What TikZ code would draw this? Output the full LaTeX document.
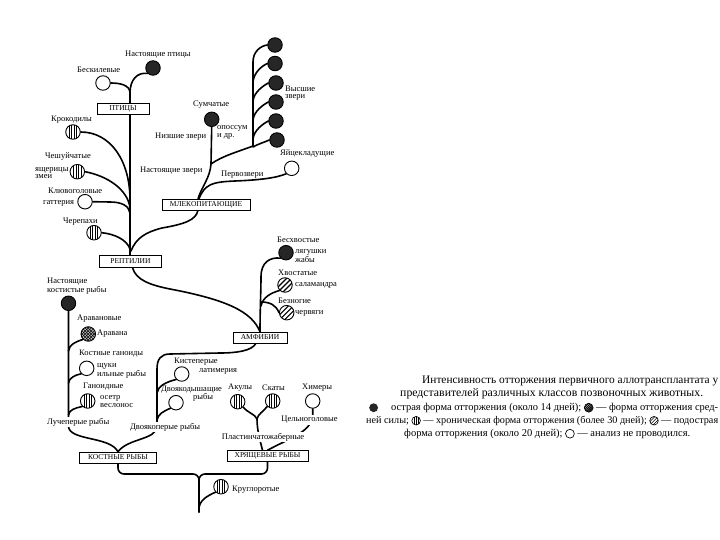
\documentclass[tikz,border=0pt]{standalone}
\usepackage{fontspec}
\setmainfont{Liberation Serif}
\usepackage{graphicx}
\pgfdeclarelayer{bg}
\pgfsetlayers{bg,main}
\newcommand{\lgA}{\tikz[baseline=-2.8pt]\fill[black!85] (0pt,0pt) circle (4pt);}
\newcommand{\lgB}{\tikz[baseline=-2.8pt]{\begin{scope}\clip (0pt,0pt) circle (4pt);\fill[black!30] (0pt,0pt) circle (4pt);\foreach \q in {-4,-2,0,2,4}{\draw[line width=0.5pt] (\q pt-5pt,-5pt) -- (\q pt+5pt,5pt);\draw[line width=0.5pt] (\q pt-5pt,5pt) -- (\q pt+5pt,-5pt);}\end{scope}\draw[line width=0.6pt] (0pt,0pt) circle (4pt);}}
\newcommand{\lgC}{\tikz[baseline=-2.8pt]{\begin{scope}\clip (0pt,0pt) circle (4pt);\foreach \q in {-2,0,2}{\draw[line width=0.5pt] (\q pt,-5pt) -- (\q pt,5pt);}\end{scope}\draw[line width=0.6pt] (0pt,0pt) circle (4pt);}}
\newcommand{\lgD}{\tikz[baseline=-2.8pt]{\begin{scope}\clip (0pt,0pt) circle (4pt);\foreach \q in {-3,0,3}{\draw[line width=0.6pt] (\q pt-5pt,-5pt) -- (\q pt+5pt,5pt);}\end{scope}\draw[line width=0.6pt] (0pt,0pt) circle (4pt);}}
\newcommand{\lgE}{\tikz[baseline=-2.8pt]\draw[line width=0.6pt] (0pt,0pt) circle (4pt);}
\begin{document}
\begin{tikzpicture}[x=1pt,y=-1pt,
  br/.style={line width=1.6pt, line cap=round},
  lab/.style={font=\fontsize{8.5}{7.5}\selectfont, inner sep=0pt, anchor=west, align=left},
  wlab/.style={lab, fill=white, inner sep=1pt},
  leg/.style={font=\fontsize{9.5}{10}\selectfont, inner sep=0pt, anchor=west},
  cls/.style={draw, line width=0.5pt, fill=white, font=\fontsize{7.5}{8}\selectfont, inner sep=0pt, minimum height=11pt},
  leaf/.style={circle, draw, line width=0.9pt, minimum size=14.5pt, inner sep=0pt, fill=white},
  blk/.style={leaf, fill=black!85},
  vst/.style={leaf, path picture={\foreach \q in {-3.6,-1.2,1.2,3.6} \draw[line width=0.8pt] ([xshift=\q pt]path picture bounding box.north) -- ([xshift=\q pt]path picture bounding box.south);}},
  dst/.style={leaf, path picture={\foreach \q in {-5,0,5} \draw[line width=1.1pt] ([shift={(\q pt-9pt,-9pt)}]path picture bounding box.center) -- ([shift={(\q pt+9pt,9pt)}]path picture bounding box.center);}},
  xst/.style={leaf, fill=black!25, path picture={\foreach \q in {-6,-3,0,3,6} {\draw[line width=0.6pt] ([shift={(\q pt-9pt,-9pt)}]path picture bounding box.center) -- ([shift={(\q pt+9pt,9pt)}]path picture bounding box.center); \draw[line width=0.6pt] ([shift={(\q pt-9pt,9pt)}]path picture bounding box.center) -- ([shift={(\q pt+9pt,-9pt)}]path picture bounding box.center);}}},
]
\useasboundingbox (0,0) rectangle (720,540);

% ---------- class boxes ----------
\node[cls, minimum width=52pt] (birds) at (123,108.5) {ПТИЦЫ};
\node[cls, minimum width=62pt, minimum height=12pt] (rept) at (130.5,261.5) {РЕПТИЛИИ};
\node[cls, minimum width=88pt] (mam) at (206,204.5) {МЛЕКОПИТАЮЩИЕ};
\node[cls, minimum width=54pt] (amph) at (260,337.5) {АМФИБИИ};
\node[cls, minimum width=77pt] (bony) at (118,457.5) {КОСТНЫЕ РЫБЫ};
\node[cls, minimum width=81pt] (chond) at (267.5,456) {ХРЯЩЕВЫЕ РЫБЫ};

% ---------- leaves ----------
\node[blk] (bird) at (153,68) {};
\node[leaf] (ratite) at (103,83) {};
\node[vst] (croc) at (73,132) {};
\node[vst] (squam) at (77.3,171.7) {};
\node[leaf] (tuat) at (85,201.7) {};
\node[vst] (turt) at (94,232.7) {};
\node[blk] (marsup) at (211.7,119.3) {};
\node[blk] (h1) at (275,45) {};
\node[blk] (h2) at (275,63.5) {};
\node[blk] (h3) at (276,83) {};
\node[blk] (h4) at (276,102) {};
\node[blk] (h5) at (276,121) {};
\node[blk] (h6) at (277,140) {};
\node[leaf] (mono) at (291.7,168.3) {};
\node[blk] (frog) at (286,252.7) {};
\node[dst] (sal) at (285,285) {};
\node[dst] (caec) at (286.7,312.7) {};
\node[blk] (teleo) at (68.5,303.3) {};
\node[xst] (arav) at (88.3,334) {};
\node[leaf] (pike) at (86.7,368.3) {};
\node[vst] (stur) at (87.7,401) {};
\node[leaf] (coel) at (181.7,374) {};
\node[leaf] (lung) at (176,402.7) {};
\node[vst] (shark) at (237.7,401.7) {};
\node[vst] (ray) at (272.7,401) {};
\node[leaf] (chim) at (312.7,401) {};
\node[vst] (lamp) at (221,486.7) {};

% ---------- junctions ----------
\coordinate (jb) at (130,93);
\coordinate (jm) at (131,251);
\coordinate (jh) at (211,164);
\coordinate (ja) at (261,302);
\coordinate (jf) at (257,419);
\coordinate (jt) at (199,474);

% ---------- branches ----------
\begin{pgfonlayer}{bg}
\fill[white] (0,0) rectangle (720,540);
% birds & reptiles
\draw[br] (jb) -- (rept.north -| jb);
\draw[br] (jb) .. controls (130,80) and (137,72) .. (bird.south west);
\draw[br] (ratite.east) .. controls (120,83) and (130,85) .. (jb);
\draw[br] (croc.east) .. controls (110,132) and (130,160) .. (130,200);
\draw[br] (squam.east) .. controls (108,176) and (128,190) .. (130,208);
\draw[br] (tuat.east) -- (110,202) .. controls (122,202) and (129,206) .. (130,213);
\draw[br] (turt.east) .. controls (115,234) and (127,240) .. (130,249);
% mammals
\draw[br] (jm) .. controls (136,238) and (146,232) .. (162,228) .. controls (185,224) and (196,220) .. ([xshift=-8pt]mam.south);
\draw[br] ([xshift=-8pt]mam.north) .. controls (202,186) and (210,178) .. (jh) -- (marsup.south);
\draw[br] ([xshift=-7pt]mam.north) .. controls (205,184) and (212,182) .. (235,181) .. controls (260,180) and (276,178) .. (mono.south west);
\draw[br] (jh) .. controls (222,156) and (240,151) .. (253,146) -- (253,62) .. controls (253,52) and (260,46) .. (h1.west);
\draw[br] (h2.west) .. controls (262,66) and (254,72) .. (253,82);
\draw[br] (h3.west) .. controls (263,86) and (254,92) .. (253,101);
\draw[br] (h4.west) .. controls (263,105) and (254,111) .. (253,120);
\draw[br] (h5.west) .. controls (263,124) and (254,130) .. (253,139);
\draw[br] (h6.west) .. controls (265,142) and (258,144) .. (253,147);
% amphibians
\draw[br] ([xshift=2pt]rept.south) .. controls (136,280) and (150,285) .. (170,289) .. controls (228,300) and (252,312) .. (amph.north);
\draw[br] (amph.north) .. controls (260,310) and (261,290) .. (261,277) .. controls (261,262) and (270,257) .. (frog.south west);
\draw[br] (sal.south west) .. controls (271,293) and (263,297) .. (261,306);
\draw[br] (ja) .. controls (270,302) and (276,305) .. (caec.west);
% lobe-finned fishes
\draw[br] ([xshift=-4pt]amph.south) .. controls (252,351) and (236,353) .. (220,353) -- (170,354) .. controls (161,354) and (157,359) .. (157,369) -- (157,426) .. controls (157,440) and (128,438) .. (bony.north);
\draw[br] (coel.south west) .. controls (166,382) and (158,386) .. (157,393);
\draw[br] (lung.south west) .. controls (164,411) and (158,414) .. (157,420);
% ray-finned fishes
\draw[br] (teleo.south) -- (68.5,426) .. controls (68.5,441) and (110,436) .. (bony.north);
\draw[br] (arav.south west) .. controls (75,342) and (69,345) .. (68.5,351);
\draw[br] (pike.south west) .. controls (75,375) and (69,378) .. (68.5,383);
\draw[br] (stur.south west) .. controls (75,408) and (69,410) .. (68.5,415);
% cartilaginous fishes
\draw[br] ([xshift=-5pt]chond.north) .. controls (260,440) and (257,430) .. (jf);
\draw[br] (shark.south east) .. controls (248,413) and (255,414) .. (jf);
\draw[br] (ray.south west) .. controls (263,412) and (258,414) .. (jf);
\draw[br] (chim.south) -- (312.7,416) .. controls (311,432) and (290,438) .. (chond.north);
% root
\draw[br, rounded corners=6pt] (bony.south) -- (118,474) -- (jt) -- (199,512);
\draw[br, rounded corners=6pt] (chond.south) -- (267.5,474) -- (jt) -- (199,512);
\draw[br] (lamp.south west) .. controls (207,496) and (200,500) .. (199,508);
\end{pgfonlayer}

% ---------- labels ----------
\node[lab] at (125,55) {Настоящие птицы};
\node[lab] at (77,70) {Бескилевые};
\node[lab] at (51,120) {Крокодилы};
\node[lab] at (45,157) {Чешуйчатые};
\node[lab] at (35,173) {ящерицы\\змеи};
\node[lab] at (48,191) {Клювоголовые};
\node[lab] at (43,203) {гаттерия};
\node[lab] at (63,222) {Черепахи};
\node[lab] at (193,105) {Сумчатые};
\node[lab] at (217,132.5) {опоссум\\и др.};
\node[lab] at (155,137) {Низшие звери};
\node[lab] at (140,171) {Настоящие звери};
\node[lab] at (221,175) {Первозвери};
\node[lab] at (285,93) {Высшие\\звери};
\node[lab] at (280,154) {Яйцекладущие};
\node[lab] at (277,240) {Бесхвостые};
\node[lab] at (295,256.5) {лягушки\\жабы};
\node[lab] at (278,273) {Хвостатые};
\node[lab] at (295,285) {саламандра};
\node[lab] at (278,301) {Безногие};
\node[lab] at (295,313) {червяги};
\node[lab] at (47,286.5) {Настоящие\\костистые рыбы};
\node[lab] at (77,319) {Аравановые};
\node[lab] at (97,334) {Аравана};
\node[lab] at (79,354) {Костные ганоиды};
\node[lab] at (97,371) {щуки\\ильные рыбы};
\node[lab] at (83,387) {Ганоидные};
\node[lab] at (100,401.5) {осетр\\веслонос};
\node[wlab] at (46,422) {Лучеперые рыбы};
\node[lab] at (174,361.5) {Кистеперые};
\node[lab] at (199,371.5) {латимерия};
\node[lab] at (161,390) {Двоякодышащие};
\node[lab] at (193,397.5) {рыбы};
\node[wlab] at (129,427) {Двоякоперые рыбы};
\node[lab] at (228,388) {Акулы};
\node[lab] at (262,388) {Скаты};
\node[lab] at (302,388) {Химеры};
\node[wlab, anchor=center] at (309.5,420) {Цельноголовые};
\node[wlab, anchor=center] at (263,437) {Пластинчатожаберные};
\node[lab] at (232,490) {Круглоротые};

% ---------- legend ----------
\node[leg] (l1) at (422,381) {\resizebox{296pt}{!}{Интенсивность отторжения первичного аллотрансплантата у}};
\node[leg] (l2) at (400,394) {\resizebox{303pt}{!}{представителей различных классов позвоночных животных.}};
\node[leg] (l3) at (369,408) {\resizebox{349pt}{!}{\lgA\hspace{12pt}острая форма отторжения (около 14 дней); \lgB{} — форма отторжения сред-}};
\node[leg] (l4) at (366,421) {\resizebox{352pt}{!}{ней силы; \lgC{} — хроническая форма отторжения (более 30 дней); \lgD{} — подострая}};
\node[leg] (l5) at (404,434) {\resizebox{286pt}{!}{форма отторжения (около 20 дней); \lgE{} — анализ не проводился.}};
\end{tikzpicture}
\end{document}
